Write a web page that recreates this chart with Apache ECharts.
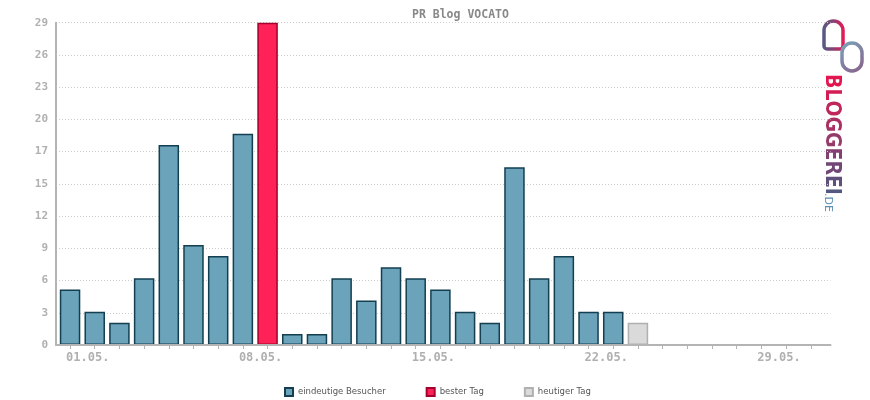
<!DOCTYPE html>
<html>
<head>
<meta charset="utf-8">
<script src="https://cdn.jsdelivr.net/npm/echarts@6/dist/echarts.min.js"></script>
<style>html,body{margin:0;padding:0;background:#fff}#c{width:870px;height:400px}</style>
</head>
<body>
<div id="c"></div>
<script>
const days = ['01.05.','02.05.','03.05.','04.05.','05.05.','06.05.','07.05.','08.05.','09.05.','10.05.','11.05.','12.05.','13.05.','14.05.','15.05.','16.05.','17.05.','18.05.','19.05.','20.05.','21.05.','22.05.','23.05.','24.05.','25.05.','26.05.','27.05.','28.05.','29.05.','30.05.','31.05.'];
const visitors = [5,3,2,6,18,9,8,19,29,1,1,6,4,7,6,5,3,2,16,6,8,3,3,2,0,0,0,0,0,0,0];
const bestDayIndex = 8;
const todayIndex = 23;
const yMax = 29;
const yStep = 2.9;
const seriesNames = ['eindeutige Besucher','bester Tag','heutiger Tag'];
const chartTitle = 'PR Blog VOCATO';
const logoWord = 'BLOGGEREI';
const logoSuffix = '.DE';

const regular = visitors.map((v,i) => (i===bestDayIndex || i===todayIndex || v===0) ? '-' : v);
const best = visitors.map((v,i) => i===bestDayIndex ? v : '-');
const today = visitors.map((v,i) => i===todayIndex ? v : '-');

const logoColors = ['#e4164f','#d31d55','#c0265b','#aa3064','#963a6c','#833f72','#724676','#604f7b','#52587f'];
const rich = {};
logoColors.forEach((c,i)=>{ rich['c'+i] = {fill:c, color:c, fontFamily:'DejaVu Sans Condensed, DejaVu Sans', fontSize:21, fontWeight:'bold'}; });
const logoText = logoWord.split('').map((ch,i)=>'{c'+i+'|'+ch+'}').join('');

const chart = echarts.init(document.getElementById('c'), null, {renderer:'canvas'});
const mono = 'DejaVu Sans Mono';
const axisGray = '#b4b4b4';
const barCommon = {type:'bar', xAxisIndex:1, yAxisIndex:1, stack:'s', barWidth:20.5};

chart.setOption({
  animation:false,
  backgroundColor:'#fff',
  title:{text:chartTitle, left:407, top:4, textStyle:{fontFamily:mono, fontWeight:'bold', fontSize:11.5, color:'#888'}},
  legend:{left:284, top:387, padding:0, itemWidth:8, itemHeight:8, itemGap:40, icon:'rect',
    textStyle:{fontFamily:'DejaVu Sans', fontSize:8.5, color:'#555'},
    data:seriesNames},
  grid:[
    {left:56, right:39.5, top:22.7, bottom:55},
    {left:57.7, width:765.4, top:22.7, bottom:55}
  ],
  xAxis:[
    {type:'value', gridIndex:0, min:0, max:1, z:10,
      axisLine:{show:true, lineStyle:{color:axisGray, width:2}},
      axisTick:{show:false}, axisLabel:{show:false}, splitLine:{show:false}},
    {type:'category', gridIndex:1, data:days, boundaryGap:true,
      axisLine:{show:false},
      axisTick:{show:true, alignWithLabel:true, interval:0, length:4, lineStyle:{color:axisGray, width:1}},
      axisLabel:{interval:(i)=>i%7===0, align:'left', margin:7, fontFamily:mono, fontWeight:'bold', fontSize:12, color:'#b0b0b0', padding:[0,0,0,-4]},
      splitLine:{show:false}}
  ],
  yAxis:[
    {type:'value', gridIndex:0, min:0, max:yMax, interval:yStep,
      axisLine:{show:true, lineStyle:{color:axisGray, width:2}},
      axisTick:{show:false},
      axisLabel:{formatter:(v)=>String(Math.round(v)), fontFamily:mono, fontWeight:'bold', fontSize:11, color:'#b0b0b0', margin:8},
      splitLine:{show:true, lineStyle:{color:'#cccccc', type:[1,2], width:1}}},
    {type:'value', gridIndex:1, min:0, max:yMax, show:false, splitLine:{show:false}}
  ],
  series:[
    Object.assign({name:seriesNames[0], data:regular, itemStyle:{color:'#6ba3ba', borderColor:'#133f51', borderWidth:1.5}}, barCommon),
    Object.assign({name:seriesNames[1], data:best, itemStyle:{color:'#ff2257', borderColor:'#a3002c', borderWidth:1.5}}, barCommon),
    Object.assign({name:seriesNames[2], data:today, itemStyle:{color:'#dadada', borderColor:'#b0b0b0', borderWidth:1.5}}, barCommon)
  ],
  graphic:[
    {type:'rect', shape:{x:824, y:21, width:19, height:28, r:[10,10,3,3]},
      style:{fill:'none', lineWidth:3.5,
        stroke:{type:'linear', x:0, y:0, x2:1, y2:0, colorStops:[{offset:0, color:'#4f5f86'},{offset:0.5,color:'#8a3f72'},{offset:1, color:'#f2164f'}]}}},
    {type:'rect', shape:{x:842, y:43, width:20, height:28, r:10},
      style:{fill:'none', lineWidth:3.5,
        stroke:{type:'linear', x:0, y:0, x2:1, y2:1, colorStops:[{offset:0, color:'#78a9bd'},{offset:1, color:'#8b5b88'}]}}},
    {type:'text', x:831.5, y:74, rotation:-Math.PI/2,
      style:{text:logoText, rich:rich, align:'left', verticalAlign:'middle'}},
    {type:'text', x:828, y:193, rotation:-Math.PI/2,
      style:{text:logoSuffix, fontFamily:'DejaVu Sans', fontSize:11, align:'left', verticalAlign:'middle', fill:'#5b8db0'}}
  ]
});
</script>
</body>
</html>
